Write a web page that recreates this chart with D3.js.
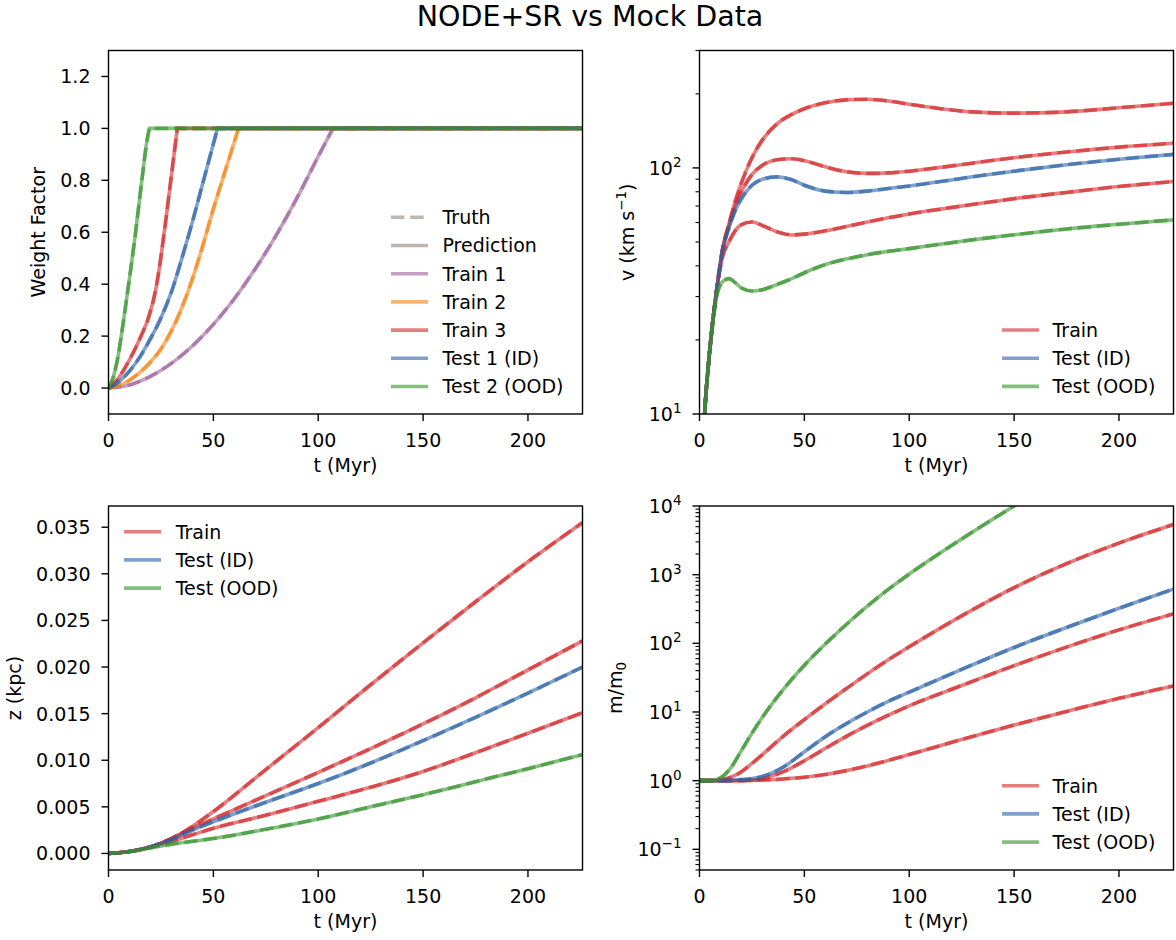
<!DOCTYPE html>
<html>
<head>
<meta charset="utf-8">
<script src="https://cdn.jsdelivr.net/npm/d3@7"></script>
<style>
  body { margin: 0; background: #fff; }
  svg { display: block; font-family: "DejaVu Sans", sans-serif; }
</style>
</head>
<body>
<svg id="fig" width="1176" height="940"></svg>
<script>
// ─── Data ────────────────────────────────────────────────────────────────────
const tMax = 226;
const xTicks = [0, 50, 100, 150, 200];

// Weight factor: each curve climbs to 1 and then holds there until tMax
const wTrain1T = [0, 10, 20, 30, 40, 50, 60, 70, 80, 90, 100, 107];
const wTrain1 = [0, 0.012, 0.045, 0.095, 0.162, 0.245, 0.344, 0.459, 0.589, 0.734, 0.892, 1.0];
const wTrain2T = [0, 5, 10, 15, 20, 25, 30, 35, 40, 45, 50, 55, 58.5, 62];
const wTrain2 = [0, 0.01, 0.03, 0.06, 0.1, 0.15, 0.22, 0.31, 0.42, 0.55, 0.69, 0.82, 0.91, 1.0];
const wTrain3T = [0, 4, 8, 12, 15.5, 19, 22.3, 24.2, 26, 27.7, 29.4, 31.1, 32.8];
const wTrain3 = [0, 0.03, 0.08, 0.14, 0.2, 0.27, 0.37, 0.46, 0.565, 0.67, 0.78, 0.89, 1.0];
const wTest1T = [0, 5, 10, 15, 20, 25, 30, 35, 40, 44, 48, 52];
const wTest1 = [0, 0.025, 0.065, 0.12, 0.19, 0.27, 0.37, 0.5, 0.64, 0.76, 0.88, 1.0];
const wTest2T = [0, 2.4, 4.5, 7, 10.3, 12.3, 15.9, 18.5, 19.5];
const wTest2 = [0, 0.045, 0.12, 0.25, 0.44, 0.56, 0.8, 0.96, 1.0];
const wTicks = [0, 0.2, 0.4, 0.6, 0.8, 1.0, 1.2];

// Velocity (km/s), log axis
const vT = [1, 2.5, 4, 6, 8, 11, 14, 17, 20, 25, 30, 37, 44, 50, 60, 70, 80, 90, 100, 115, 130, 150, 175, 200, 226];
const vTrainA = [5, 10.2, 15, 22.5, 31, 47, 59, 73, 87, 110, 130, 151, 165, 174, 184, 189, 190, 187, 181.5, 174, 169, 167, 169, 175.5, 183];
const vTrainB = [5, 10.2, 15, 22.5, 31, 46.5, 58, 70, 80, 94, 102.5, 108, 109, 107, 101, 96.5, 95, 95.5, 97, 100.5, 104.5, 110, 116, 121.5, 126];
const vTrainC = [5, 10.2, 15, 22.5, 31, 43.5, 50, 55.5, 58.8, 60.3, 58.3, 55, 53.4, 53.8, 55.5, 57.8, 60.3, 62.7, 65, 68, 71, 75, 79.5, 84, 88];
const vTestID = [5, 10.2, 15, 22.5, 31, 46, 57, 67, 75, 85, 90, 92, 89.5, 85, 80.5, 79.5, 80.5, 82.5, 84.5, 88, 92, 97, 103, 108.5, 113.5];
const vTestOOD = [5, 10.2, 15, 22, 29.5, 34.5, 35.5, 34.2, 32.5, 31.6, 32, 33.6, 35.5, 37.5, 40.5, 42.6, 44.4, 45.8, 47, 49, 51, 53.5, 56.5, 59, 61.5];

// Height z (kpc)
const zT = [0, 10, 20, 30, 40, 50, 75, 100, 125, 150, 175, 200, 226];
const zTrainA = [0, 0.0002, 0.0007, 0.0016, 0.0029, 0.0045, 0.0090, 0.0135, 0.0181, 0.0226, 0.0270, 0.0313, 0.0355];
const zTrainB = [0, 0.0002, 0.0007, 0.0016, 0.0027, 0.0037, 0.0062, 0.0087, 0.01125, 0.0139, 0.0167, 0.0197, 0.0228];
const zTrainC = [0, 0.0002, 0.0007, 0.0013, 0.0020, 0.0027, 0.0041, 0.0056, 0.0071, 0.0088, 0.0108, 0.0129, 0.0151];
const zTestID = [0, 0.0002, 0.0007, 0.0015, 0.0025, 0.0034, 0.0055, 0.0075, 0.0097, 0.0121, 0.0146, 0.0172, 0.0200];
const zTestOOD = [0, 0.0002, 0.0006, 0.0010, 0.0013, 0.0016, 0.0026, 0.0037, 0.0050, 0.0063, 0.0077, 0.0091, 0.0106];
const zTicks = [0, 0.005, 0.01, 0.015, 0.02, 0.025, 0.03, 0.035];

// Mass ratio m/m0, log axis
const mT = [0, 5, 10, 15, 20, 25, 30, 40, 50, 60, 70, 80, 90, 100, 125, 150, 175, 200, 226];
const mTrainA = [1, 1, 1.02, 1.12, 1.35, 1.78, 2.4, 4.47, 7.76, 13.2, 21.9, 35.9, 57.5, 89, 251, 646, 1445, 2880, 5370];
const mTrainB = [1, 1, 1, 1, 1.01, 1.02, 1.07, 1.35, 1.95, 2.95, 4.42, 6.38, 8.97, 12.3, 24.3, 47.3, 88.1, 157, 269];
const mTrainC = [1, 1, 1, 1, 1, 1.01, 1.02, 1.06, 1.12, 1.23, 1.40, 1.64, 1.97, 2.4, 3.98, 6.46, 10.2, 15.8, 24];
const mTestID = [1, 1, 1, 1.01, 1.035, 1.07, 1.15, 1.58, 2.63, 4.37, 6.76, 10, 14.3, 19.5, 41.7, 87, 170, 324, 617];
const mTestOOD = [1, 1, 1.1, 1.55, 2.75, 4.9, 8.4, 21.4, 47.9, 97.7, 188, 347, 610, 1020, 3310, 10000, 28800, 79400, 219000];

// ─── Style ───────────────────────────────────────────────────────────────────
const FONT = 19;
const LW = 3.6;
const ALPHA = 0.6;
const DASH = '13.4 5.8';
const colors = {
  purple: '#9d619b', orange: '#f58010', train: '#d62728',
  id: '#2a63a8', ood: '#33922a', gray: '#93857a'
};
const cols = [[108.5, 582.5], [699.5, 1173.5]];
const rows = [[50.5, 414], [506, 870]];

const svg = d3.select('#fig');

// ─── Helpers ─────────────────────────────────────────────────────────────────
function powLabel(text, exp) {
  text.append('tspan').text('10');
  text.append('tspan').attr('dy', -8).attr('font-size', 13.5)
    .text(exp < 0 ? '\u2212' + (-exp) : String(exp));
}

function drawLegend(g, entries, hx, tx, y0) {
  entries.forEach((e, i) => {
    const yy = y0 + i * 28.2;
    g.append('line')
      .attr('x1', hx).attr('x2', hx + 37).attr('y1', yy).attr('y2', yy)
      .attr('stroke', e.color).attr('stroke-opacity', ALPHA)
      .attr('stroke-width', LW)
      .attr('stroke-dasharray', e.dashed ? DASH : null);
    g.append('text').attr('x', tx).attr('y', yy + 6.9)
      .attr('font-size', FONT).text(e.label);
  });
}

function drawPanel(p) {
  const [x0, x1] = cols[p.col];
  const [y0, y1] = rows[p.row];
  const x = d3.scaleLinear().domain([0, tMax]).range([x0, x1]);
  const y = (p.log ? d3.scaleLog() : d3.scaleLinear()).domain(p.yDomain).range([y1, y0]);
  const g = svg.append('g');

  const clipId = `clip-${p.col}-${p.row}`;
  svg.append('clipPath').attr('id', clipId)
    .append('rect').attr('x', x0).attr('y', y0)
    .attr('width', x1 - x0).attr('height', y1 - y0);

  // Curves: prediction (solid) and truth (dashed), both translucent
  const plot = g.append('g').attr('clip-path', `url(#${clipId})`);
  const smooth = d3.line().x(d => x(d[0])).y(d => y(d[1])).curve(d3.curveMonotoneX);
  const straight = d3.line().x(d => x(d[0])).y(d => y(d[1]));
  p.series.forEach(s => {
    const pts = s.t.map((t, i) => [t, s.v[i]]);
    let d = smooth(pts);
    if (s.hold !== undefined) {
      const last = pts[pts.length - 1];
      d += straight([last, [tMax, s.hold]]).replace(/^M/, 'L');
    }
    [null, DASH].forEach(dash => {
      plot.append('path').attr('d', d)
        .attr('fill', 'none')
        .attr('stroke', s.color).attr('stroke-opacity', ALPHA)
        .attr('stroke-width', LW)
        .attr('stroke-dasharray', dash);
    });
  });

  // Spines
  g.append('rect').attr('x', x0).attr('y', y0)
    .attr('width', x1 - x0).attr('height', y1 - y0)
    .attr('fill', 'none').attr('stroke', '#000').attr('stroke-width', 1.4);

  // X ticks
  xTicks.forEach(t => {
    g.append('line').attr('x1', x(t)).attr('x2', x(t))
      .attr('y1', y1).attr('y2', y1 + 7)
      .attr('stroke', '#000').attr('stroke-width', 1.4);
    g.append('text').attr('x', x(t)).attr('y', y1 + 32.7)
      .attr('text-anchor', 'middle').attr('font-size', FONT).text(t);
  });
  g.append('text').attr('x', (x0 + x1) / 2).attr('y', y1 + 58.3)
    .attr('text-anchor', 'middle').attr('font-size', FONT).text('t (Myr)');

  // Y ticks
  const labels = g.append('g');
  if (p.log) {
    const all = y.ticks();
    all.forEach(t => {
      const e = Math.log10(t);
      const major = Math.abs(e - Math.round(e)) < 1e-6;
      g.append('line').attr('x1', x0 - (major ? 7 : 4)).attr('x2', x0)
        .attr('y1', y(t)).attr('y2', y(t))
        .attr('stroke', '#000').attr('stroke-width', major ? 1.4 : 1.1);
      if (major) {
        const txt = labels.append('text').attr('x', x0 - 18).attr('y', y(t) + 6.9)
          .attr('text-anchor', 'end').attr('font-size', FONT);
        powLabel(txt, Math.round(e));
      }
    });
  } else {
    p.yTicks.forEach(t => {
      g.append('line').attr('x1', x0 - 7).attr('x2', x0)
        .attr('y1', y(t)).attr('y2', y(t))
        .attr('stroke', '#000').attr('stroke-width', 1.4);
      labels.append('text').attr('x', x0 - 18).attr('y', y(t) + 6.9)
        .attr('text-anchor', 'end').attr('font-size', FONT).text(p.yFormat(t));
    });
  }

  // Y label, placed left of the tick labels
  const lx = labels.node().getBBox().x - 15;
  const cy = (y0 + y1) / 2;
  const yl = g.append('text').attr('x', lx).attr('y', cy)
    .attr('transform', `rotate(-90, ${lx}, ${cy})`)
    .attr('text-anchor', 'middle').attr('font-size', FONT);
  p.yLabel(yl);

  drawLegend(g, p.legend.entries, p.legend.hx, p.legend.tx, p.legend.y0);
}

// ─── Panels ──────────────────────────────────────────────────────────────────
const groupLegend = [
  { label: 'Train', color: colors.train },
  { label: 'Test (ID)', color: colors.id },
  { label: 'Test (OOD)', color: colors.ood }
];

drawPanel({
  col: 0, row: 0, yDomain: [-0.1, 1.3], yTicks: wTicks, yFormat: d3.format('.1f'),
  yLabel: t => t.text('Weight Factor'),
  series: [
    { t: wTrain1T, v: wTrain1, hold: 1, color: colors.purple },
    { t: wTrain2T, v: wTrain2, hold: 1, color: colors.orange },
    { t: wTrain3T, v: wTrain3, hold: 1, color: colors.train },
    { t: wTest1T, v: wTest1, hold: 1, color: colors.id },
    { t: wTest2T, v: wTest2, hold: 1, color: colors.ood }
  ],
  legend: {
    hx: 391, tx: 442.5, y0: 217.3,
    entries: [
      { label: 'Truth', color: colors.gray, dashed: true },
      { label: 'Prediction', color: colors.gray },
      { label: 'Train 1', color: colors.purple },
      { label: 'Train 2', color: colors.orange },
      { label: 'Train 3', color: colors.train },
      { label: 'Test 1 (ID)', color: colors.id },
      { label: 'Test 2 (OOD)', color: colors.ood }
    ]
  }
});

drawPanel({
  col: 1, row: 0, log: true, yDomain: [10, 300],
  yLabel: t => {
    t.append('tspan').text('v (km s');
    t.append('tspan').attr('dy', -8).attr('font-size', 13.5).text('\u22121');
    t.append('tspan').attr('dy', 8).text(')');
  },
  series: [
    { t: vT, v: vTrainA, color: colors.train },
    { t: vT, v: vTrainB, color: colors.train },
    { t: vT, v: vTrainC, color: colors.train },
    { t: vT, v: vTestID, color: colors.id },
    { t: vT, v: vTestOOD, color: colors.ood }
  ],
  legend: { hx: 1002, tx: 1052.5, y0: 330, entries: groupLegend }
});

const zMax = d3.max([zTrainA, zTrainB, zTrainC, zTestID, zTestOOD].flat());
drawPanel({
  col: 0, row: 1, yDomain: [-0.05 * zMax, 1.05 * zMax], yTicks: zTicks, yFormat: d3.format('.3f'),
  yLabel: t => t.text('z (kpc)'),
  series: [
    { t: zT, v: zTrainA, color: colors.train },
    { t: zT, v: zTrainB, color: colors.train },
    { t: zT, v: zTrainC, color: colors.train },
    { t: zT, v: zTestID, color: colors.id },
    { t: zT, v: zTestOOD, color: colors.ood }
  ],
  legend: { hx: 124, tx: 175.7, y0: 531.7, entries: groupLegend }
});

drawPanel({
  col: 1, row: 1, log: true, yDomain: [0.05, 1e4],
  yLabel: t => {
    t.append('tspan').text('m/m');
    t.append('tspan').attr('dy', 4).attr('font-size', 13.5).text('0');
  },
  series: [
    { t: mT, v: mTrainA, color: colors.train },
    { t: mT, v: mTrainB, color: colors.train },
    { t: mT, v: mTrainC, color: colors.train },
    { t: mT, v: mTestID, color: colors.id },
    { t: mT, v: mTestOOD, color: colors.ood }
  ],
  legend: { hx: 1002, tx: 1052.5, y0: 785.7, entries: groupLegend }
});

// ─── Title ───────────────────────────────────────────────────────────────────
svg.append('text').attr('x', 590).attr('y', 26)
  .attr('text-anchor', 'middle').attr('font-size', 28.5)
  .text('NODE+SR vs Mock Data');
</script>
</body>
</html>
